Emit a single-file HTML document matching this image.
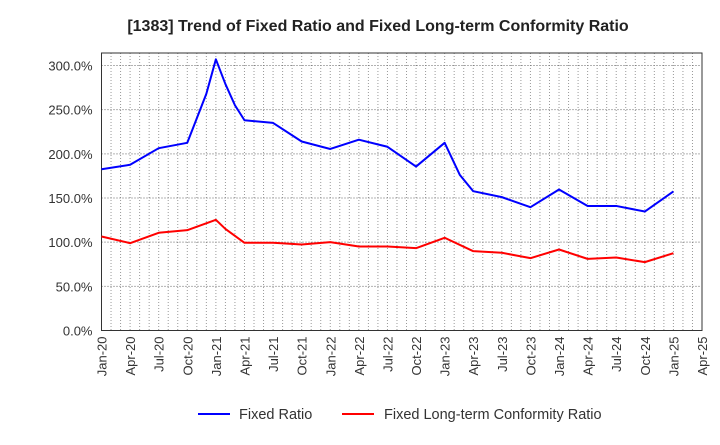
<!DOCTYPE html>
<html><head><meta charset="utf-8"><style>
body{margin:0;background:#fff;font-family:"Liberation Sans",Arial,sans-serif;}
</style></head><body>
<svg id="chart" width="720" height="440" xmlns="http://www.w3.org/2000/svg" font-family="Liberation Sans, Arial, sans-serif">
<text x="378" y="31" text-anchor="middle" font-size="16" font-weight="bold" fill="#222">[1383]  Trend of Fixed Ratio and Fixed Long-term Conformity Ratio</text>
<g id="grid"></g><g id="axes"></g><g id="series"></g>
<g>
<line x1="198" y1="414" x2="230" y2="414" stroke="#0000ff" stroke-width="2"/>
<text x="239" y="419" font-size="14.5" fill="#333">Fixed Ratio</text>
<line x1="342" y1="414" x2="374" y2="414" stroke="#ff0000" stroke-width="2"/>
<text x="384" y="419" font-size="14.5" fill="#333">Fixed Long-term Conformity Ratio</text>
</g>
</svg>
<script>
const xTickLabels=["Jan-20","Apr-20","Jul-20","Oct-20","Jan-21","Apr-21","Jul-21","Oct-21","Jan-22","Apr-22","Jul-22","Oct-22","Jan-23","Apr-23","Jul-23","Oct-23","Jan-24","Apr-24","Jul-24","Oct-24","Jan-25","Apr-25"];
const yTicks=[0,50,100,150,200,250,300];
const fixedMonths=[0,3,6,9,11,12,13,14,15,18,21,24,27,30,33,36,37.6,39,42,45,48,51,54,57,60];
const fixedRatio=[182.5,187.6,206.4,212.5,268,307,279,255,238,235,214,205.5,216,208,185.6,212.5,176,157.7,151,139.6,159.6,141,141,134.7,157.4];
const confMonths=[0,3,6,9,12,13,15,18,21,24,27,30,33,36,39,42,45,48,51,54,57,60];
const confRatio=[106.4,98.9,110.6,113.6,125.3,115,99.3,99.3,97.4,100,95.1,95.1,93.2,105,89.8,88,81.9,91.7,81.1,82.6,77.4,87.5];
const L=101.5,R=702,T=53,B=330.5,maxM=63;
const xs=m=>L+(R-L)*m/maxM;
const ys=v=>B-v*0.8833;
const NS="http://www.w3.org/2000/svg";
function mk(p,tag,at){const e=document.createElementNS(NS,tag);for(const k in at)e.setAttribute(k,at[k]);p.appendChild(e);return e;}
const grid=document.getElementById('grid'),axes=document.getElementById('axes'),ser=document.getElementById('series');
for(let m=1;m<maxM;m++){const l=mk(grid,'line',{x1:xs(m),x2:xs(m),y1:T,y2:B,stroke:'#999','stroke-width':1,'stroke-dasharray':'1,2'});

}
yTicks.forEach(v=>{if(v>0){const l=mk(grid,'line',{x1:L,x2:R,y1:ys(v),y2:ys(v),stroke:'#666','stroke-width':1,'stroke-dasharray':'1,2'});

}
const t=mk(axes,'text',{x:L-9,y:ys(v)+5,'text-anchor':'end','font-size':13,fill:'#333'});t.textContent=v.toFixed(1)+'%';

});
const box=mk(axes,'rect',{x:L,y:T,width:R-L,height:B-T,fill:'none',stroke:'#333','stroke-width':1});


xTickLabels.forEach((s,i)=>{const x=xs(i*3);const t=mk(axes,'text',{x:0,y:0,'text-anchor':'end','font-size':13,fill:'#333',transform:`translate(${x+5},${B+6}) rotate(-90)`});t.textContent=s;

});
function line(ms,vs,c,name){const p=mk(ser,'polyline',{points:ms.map((m,i)=>xs(m)+','+ys(vs[i])).join(' '),fill:'none',stroke:c,'stroke-width':2,'stroke-linejoin':'round'});

}
line(confMonths,confRatio,'#ff0000','conformity-ratio-line');
line(fixedMonths,fixedRatio,'#0000ff','fixed-ratio-line');
</script>
</body></html>
